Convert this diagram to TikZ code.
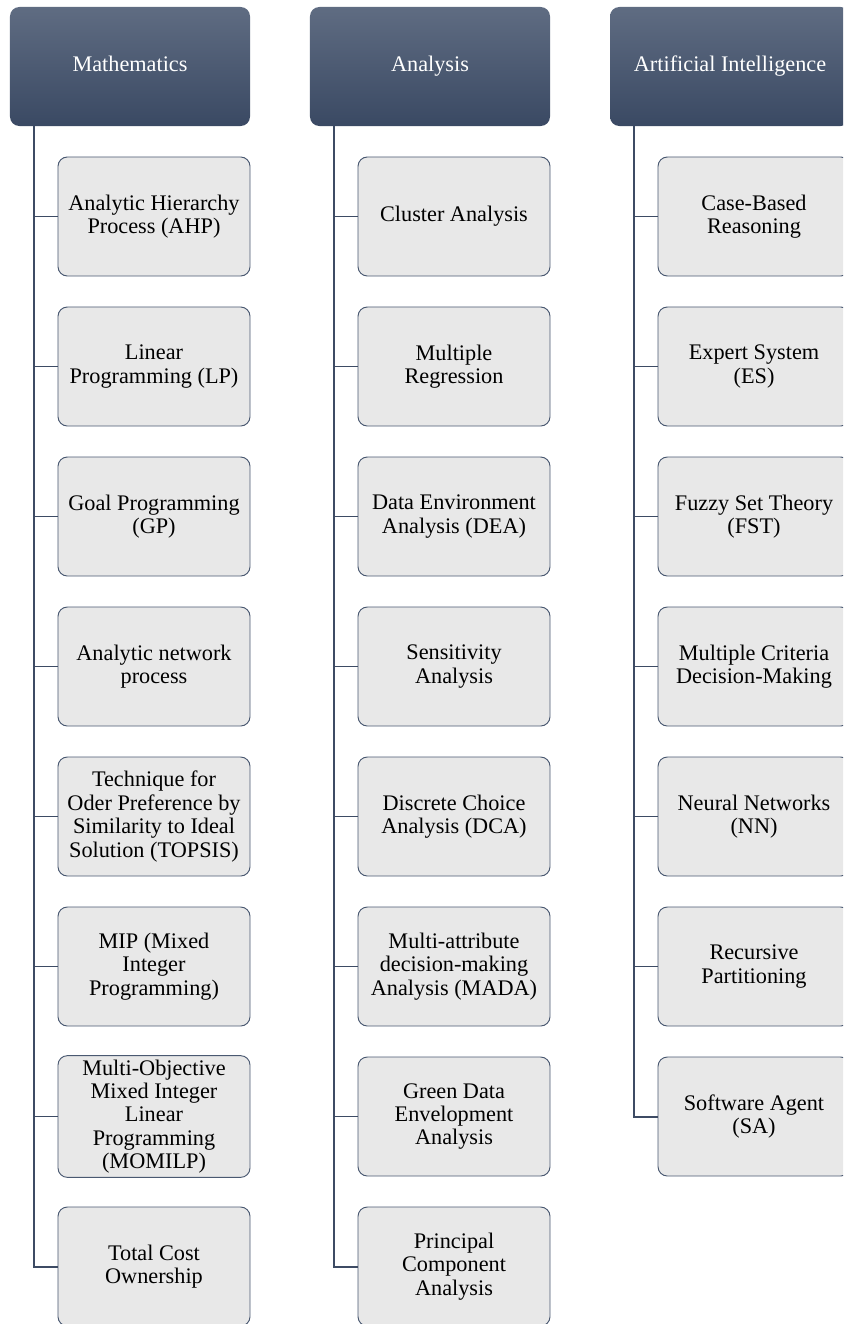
\documentclass[tikz,border=0pt]{standalone}
\usepackage{fontspec}
\setmainfont{Liberation Serif}
\definecolor{headtop}{HTML}{5F6C82}
\definecolor{headbot}{HTML}{3A4963}
\definecolor{leaffill}{HTML}{E8E8E8}
\definecolor{slate}{HTML}{4A5971}
\definecolor{trunkcol}{HTML}{3D4B64}
\begin{document}
\begin{tikzpicture}[x=0.03cm, y=-0.03cm,
    every node/.style={align=center, font=\fontsize{19}{20}\selectfont},
    head/.style={rounded corners=8pt, top color=headtop, bottom color=headbot,
      text=white, minimum width=7.2cm, minimum height=3.57cm,
      text height=13pt, text depth=4pt},
    leaf/.style={draw=slate, fill=leaffill, rounded corners=8pt, line width=0.8pt,
      minimum width=5.76cm, minimum height=3.57cm},
    link/.style={draw=trunkcol, line width=1pt},
    trunk/.style={draw=trunkcol, line width=1.7pt}
  ]
  \useasboundingbox (0,0) rectangle (843,1324);
  \clip (0,0) rectangle (843,1324);

  % Headers
  \node[head] (mhead) at (130,66.5) {Mathematics};
  \node[head] (ahead) at (430,66.5) {Analysis};
  \node[head] (ihead) at (730,66.5) {Artificial Intelligence};

  \coordinate (mtrunk) at ([xshift=0.72cm]mhead.south west);
  \coordinate (atrunk) at ([xshift=0.72cm]ahead.south west);
  \coordinate (itrunk) at ([xshift=0.72cm]ihead.south west);

  % Mathematics
  \foreach \t [count=\k] in {{Analytic Hierarchy\\Process (AHP)},
      {Linear\\Programming (LP)}, {Goal Programming\\(GP)},
      {Analytic network\\process},
      {Technique for\\Oder Preference by\\Similarity to Ideal\\Solution (TOPSIS)},
      {MIP (Mixed\\Integer\\Programming)},
      {Multi-Objective\\Mixed Integer\\Linear\\Programming\\(MOMILP)},
      {Total Cost\\Ownership}} {
    \node[leaf] (m\k) at (154,66.5+150*\k) {\t};
    \draw[link] (mtrunk |- m\k.west) -- (m\k.west);
  }
  \draw[trunk] (mtrunk) |- (m8.west);

  % Analysis
  \foreach \t [count=\k] in {{Cluster Analysis},
      {Multiple\\Regression}, {Data Environment\\Analysis (DEA)},
      {Sensitivity\\Analysis}, {Discrete Choice\\Analysis (DCA)},
      {Multi-attribute\\decision-making\\Analysis (MADA)},
      {Green Data\\Envelopment\\Analysis},
      {Principal\\Component\\Analysis}} {
    \node[leaf] (a\k) at (454,66.5+150*\k) {\t};
    \draw[link] (atrunk |- a\k.west) -- (a\k.west);
  }
  \draw[trunk] (atrunk) |- (a8.west);

  % Artificial Intelligence
  \foreach \t [count=\k] in {{Case-Based\\Reasoning},
      {Expert System\\(ES)}, {Fuzzy Set Theory\\(FST)},
      {Multiple Criteria\\Decision-Making},
      {Neural Networks\\(NN)}, {Recursive\\Partitioning},
      {Software Agent\\(SA)}} {
    \node[leaf] (i\k) at (754,66.5+150*\k) {\t};
    \draw[link] (itrunk |- i\k.west) -- (i\k.west);
  }
  \draw[trunk] (itrunk) |- (i7.west);
\end{tikzpicture}
\end{document}
